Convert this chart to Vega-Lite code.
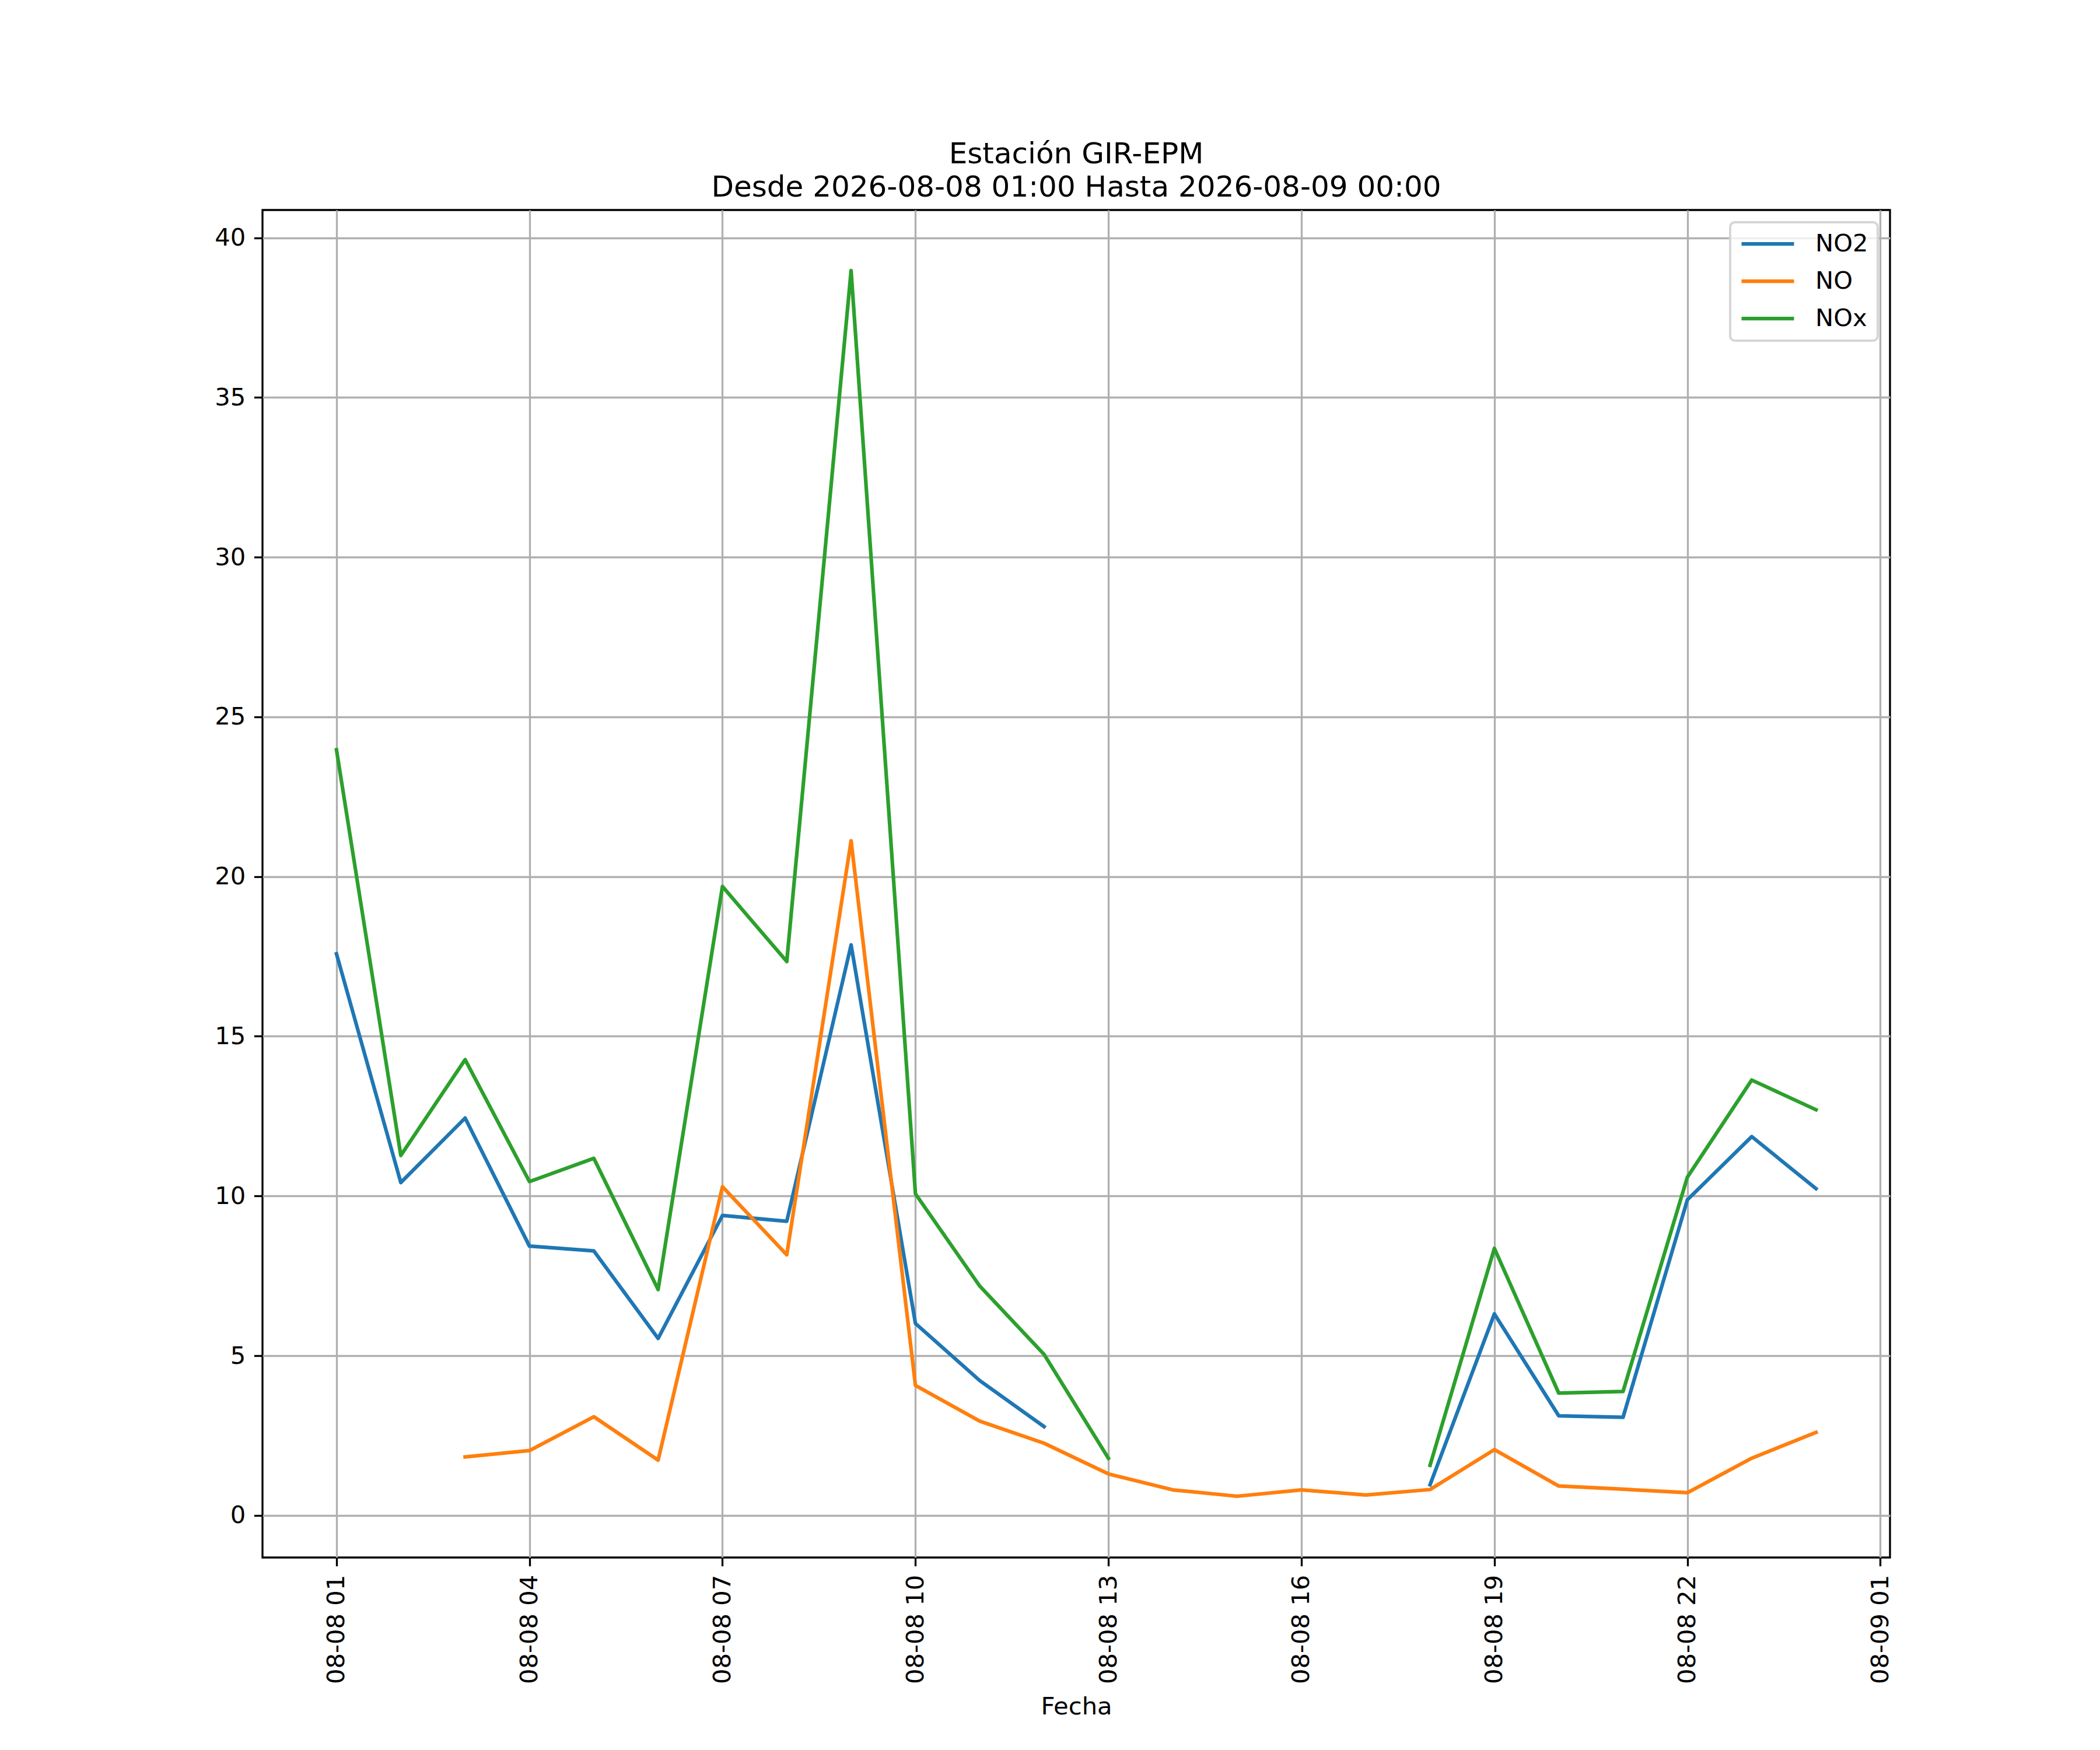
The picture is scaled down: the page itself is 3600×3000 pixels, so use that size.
{
  "$schema": "https://vega.github.io/schema/vega-lite/v6.json",
  "width": 2790,
  "height": 2310,
  "autosize": {"type": "none"},
  "padding": {"left": 450, "top": 360, "right": 360, "bottom": 330},
  "background": "white",
  "title": {
    "text": ["Estación GIR-EPM", "Desde 2026-08-08 01:00 Hasta 2026-08-09 00:00"],
    "anchor": "middle",
    "font": "DejaVu Sans",
    "fontSize": 50,
    "fontWeight": "normal",
    "color": "black",
    "lineHeight": 57,
    "baseline": "bottom",
    "offset": -37
  },
  "data": {
    "values": [
      {"fecha": "2026-08-08T01:00:00", "contaminante": "NO2", "valor": 17.58},
      {"fecha": "2026-08-08T02:00:00", "contaminante": "NO2", "valor": 10.42},
      {"fecha": "2026-08-08T03:00:00", "contaminante": "NO2", "valor": 12.44},
      {"fecha": "2026-08-08T04:00:00", "contaminante": "NO2", "valor": 8.43},
      {"fecha": "2026-08-08T05:00:00", "contaminante": "NO2", "valor": 8.28},
      {"fecha": "2026-08-08T06:00:00", "contaminante": "NO2", "valor": 5.54},
      {"fecha": "2026-08-08T07:00:00", "contaminante": "NO2", "valor": 9.39},
      {"fecha": "2026-08-08T08:00:00", "contaminante": "NO2", "valor": 9.21},
      {"fecha": "2026-08-08T09:00:00", "contaminante": "NO2", "valor": 17.86},
      {"fecha": "2026-08-08T10:00:00", "contaminante": "NO2", "valor": 6.01},
      {"fecha": "2026-08-08T11:00:00", "contaminante": "NO2", "valor": 4.22},
      {"fecha": "2026-08-08T12:00:00", "contaminante": "NO2", "valor": 2.78},
      {"fecha": "2026-08-08T13:00:00", "contaminante": "NO2", "valor": null},
      {"fecha": "2026-08-08T14:00:00", "contaminante": "NO2", "valor": null},
      {"fecha": "2026-08-08T15:00:00", "contaminante": "NO2", "valor": null},
      {"fecha": "2026-08-08T16:00:00", "contaminante": "NO2", "valor": null},
      {"fecha": "2026-08-08T17:00:00", "contaminante": "NO2", "valor": null},
      {"fecha": "2026-08-08T18:00:00", "contaminante": "NO2", "valor": 0.96},
      {"fecha": "2026-08-08T19:00:00", "contaminante": "NO2", "valor": 6.31},
      {"fecha": "2026-08-08T20:00:00", "contaminante": "NO2", "valor": 3.12},
      {"fecha": "2026-08-08T21:00:00", "contaminante": "NO2", "valor": 3.07},
      {"fecha": "2026-08-08T22:00:00", "contaminante": "NO2", "valor": 9.88},
      {"fecha": "2026-08-08T23:00:00", "contaminante": "NO2", "valor": 11.86},
      {"fecha": "2026-08-09T00:00:00", "contaminante": "NO2", "valor": 10.23},
      {"fecha": "2026-08-08T01:00:00", "contaminante": "NO", "valor": null},
      {"fecha": "2026-08-08T02:00:00", "contaminante": "NO", "valor": null},
      {"fecha": "2026-08-08T03:00:00", "contaminante": "NO", "valor": 1.83},
      {"fecha": "2026-08-08T04:00:00", "contaminante": "NO", "valor": 2.03},
      {"fecha": "2026-08-08T05:00:00", "contaminante": "NO", "valor": 3.09},
      {"fecha": "2026-08-08T06:00:00", "contaminante": "NO", "valor": 1.73},
      {"fecha": "2026-08-08T07:00:00", "contaminante": "NO", "valor": 10.29},
      {"fecha": "2026-08-08T08:00:00", "contaminante": "NO", "valor": 8.16},
      {"fecha": "2026-08-08T09:00:00", "contaminante": "NO", "valor": 21.12},
      {"fecha": "2026-08-08T10:00:00", "contaminante": "NO", "valor": 4.07},
      {"fecha": "2026-08-08T11:00:00", "contaminante": "NO", "valor": 2.95},
      {"fecha": "2026-08-08T12:00:00", "contaminante": "NO", "valor": 2.26},
      {"fecha": "2026-08-08T13:00:00", "contaminante": "NO", "valor": 1.30},
      {"fecha": "2026-08-08T14:00:00", "contaminante": "NO", "valor": 0.80},
      {"fecha": "2026-08-08T15:00:00", "contaminante": "NO", "valor": 0.60},
      {"fecha": "2026-08-08T16:00:00", "contaminante": "NO", "valor": 0.80},
      {"fecha": "2026-08-08T17:00:00", "contaminante": "NO", "valor": 0.64},
      {"fecha": "2026-08-08T18:00:00", "contaminante": "NO", "valor": 0.81},
      {"fecha": "2026-08-08T19:00:00", "contaminante": "NO", "valor": 2.06},
      {"fecha": "2026-08-08T20:00:00", "contaminante": "NO", "valor": 0.92},
      {"fecha": "2026-08-08T21:00:00", "contaminante": "NO", "valor": 0.82},
      {"fecha": "2026-08-08T22:00:00", "contaminante": "NO", "valor": 0.71},
      {"fecha": "2026-08-08T23:00:00", "contaminante": "NO", "valor": 1.79},
      {"fecha": "2026-08-09T00:00:00", "contaminante": "NO", "valor": 2.60},
      {"fecha": "2026-08-08T01:00:00", "contaminante": "NOx", "valor": 23.97},
      {"fecha": "2026-08-08T02:00:00", "contaminante": "NOx", "valor": 11.27},
      {"fecha": "2026-08-08T03:00:00", "contaminante": "NOx", "valor": 14.27},
      {"fecha": "2026-08-08T04:00:00", "contaminante": "NOx", "valor": 10.45},
      {"fecha": "2026-08-08T05:00:00", "contaminante": "NOx", "valor": 11.18},
      {"fecha": "2026-08-08T06:00:00", "contaminante": "NOx", "valor": 7.07},
      {"fecha": "2026-08-08T07:00:00", "contaminante": "NOx", "valor": 19.69},
      {"fecha": "2026-08-08T08:00:00", "contaminante": "NOx", "valor": 17.34},
      {"fecha": "2026-08-08T09:00:00", "contaminante": "NOx", "valor": 38.97},
      {"fecha": "2026-08-08T10:00:00", "contaminante": "NOx", "valor": 10.07},
      {"fecha": "2026-08-08T11:00:00", "contaminante": "NOx", "valor": 7.18},
      {"fecha": "2026-08-08T12:00:00", "contaminante": "NOx", "valor": 5.04},
      {"fecha": "2026-08-08T13:00:00", "contaminante": "NOx", "valor": 1.79},
      {"fecha": "2026-08-08T14:00:00", "contaminante": "NOx", "valor": null},
      {"fecha": "2026-08-08T15:00:00", "contaminante": "NOx", "valor": null},
      {"fecha": "2026-08-08T16:00:00", "contaminante": "NOx", "valor": null},
      {"fecha": "2026-08-08T17:00:00", "contaminante": "NOx", "valor": null},
      {"fecha": "2026-08-08T18:00:00", "contaminante": "NOx", "valor": 1.57},
      {"fecha": "2026-08-08T19:00:00", "contaminante": "NOx", "valor": 8.36},
      {"fecha": "2026-08-08T20:00:00", "contaminante": "NOx", "valor": 3.83},
      {"fecha": "2026-08-08T21:00:00", "contaminante": "NOx", "valor": 3.88},
      {"fecha": "2026-08-08T22:00:00", "contaminante": "NOx", "valor": 10.59},
      {"fecha": "2026-08-08T23:00:00", "contaminante": "NOx", "valor": 13.63},
      {"fecha": "2026-08-09T00:00:00", "contaminante": "NOx", "valor": 12.70}
    ]
  },
  "mark": {
    "type": "line",
    "strokeWidth": 6.25,
    "strokeCap": "square",
    "strokeJoin": "round",
    "invalid": "break-paths-show-domains"
  },
  "encoding": {
    "x": {
      "field": "fecha",
      "type": "temporal",
      "title": "Fecha",
      "scale": {
        "domain": [
          {"year": 2026, "month": 8, "date": 7, "hours": 23, "minutes": 51},
          {"year": 2026, "month": 8, "date": 9, "hours": 1, "minutes": 9}
        ]
      },
      "axis": {
        "values": [
          {"year": 2026, "month": 8, "date": 8, "hours": 1},
          {"year": 2026, "month": 8, "date": 8, "hours": 4},
          {"year": 2026, "month": 8, "date": 8, "hours": 7},
          {"year": 2026, "month": 8, "date": 8, "hours": 10},
          {"year": 2026, "month": 8, "date": 8, "hours": 13},
          {"year": 2026, "month": 8, "date": 8, "hours": 16},
          {"year": 2026, "month": 8, "date": 8, "hours": 19},
          {"year": 2026, "month": 8, "date": 8, "hours": 22},
          {"year": 2026, "month": 8, "date": 9, "hours": 1}
        ],
        "format": "%m-%d %H",
        "labelAngle": 270,
        "labelAlign": "right",
        "labelBaseline": "middle",
        "labelLimit": 1000,
        "titlePadding": 35
      }
    },
    "y": {
      "field": "valor",
      "type": "quantitative",
      "title": null,
      "scale": {"domain": [-1.3175, 40.8675], "nice": false, "zero": false},
      "axis": {"values": [0, 5, 10, 15, 20, 25, 30, 35, 40]}
    },
    "color": {
      "field": "contaminante",
      "type": "nominal",
      "scale": {
        "domain": ["NO2", "NO", "NOx"],
        "range": ["#1f77b4", "#ff7f0e", "#2ca02c"]
      },
      "legend": {
        "title": null,
        "orient": "top-right",
        "offset": 21,
        "symbolType": "stroke",
        "symbolSize": 8100,
        "symbolStrokeWidth": 6.25,
        "labelOffset": 33,
        "clipHeight": 42,
        "rowPadding": 21,
        "padding": 16,
        "strokeColor": "#d6d6d6",
        "cornerRadius": 8,
        "fillColor": "rgba(255,255,255,0.8)"
      }
    }
  },
  "config": {
    "font": "DejaVu Sans",
    "view": {"stroke": "black", "strokeWidth": 3.33},
    "axis": {
      "domain": false,
      "grid": true,
      "gridColor": "#b0b0b0",
      "gridWidth": 3.33,
      "gridOpacity": 1,
      "ticks": true,
      "tickColor": "black",
      "tickWidth": 3.33,
      "tickSize": 14.6,
      "labelPadding": 14.6,
      "labelFont": "DejaVu Sans",
      "labelFontSize": 41.67,
      "labelColor": "black",
      "labelFlush": false,
      "labelOverlap": false,
      "titleFont": "DejaVu Sans",
      "titleFontSize": 41.67,
      "titleFontWeight": "normal",
      "titleColor": "black"
    },
    "legend": {
      "labelFont": "DejaVu Sans",
      "labelFontSize": 41.67,
      "labelColor": "black",
      "strokeWidth": 4
    }
  }
}
